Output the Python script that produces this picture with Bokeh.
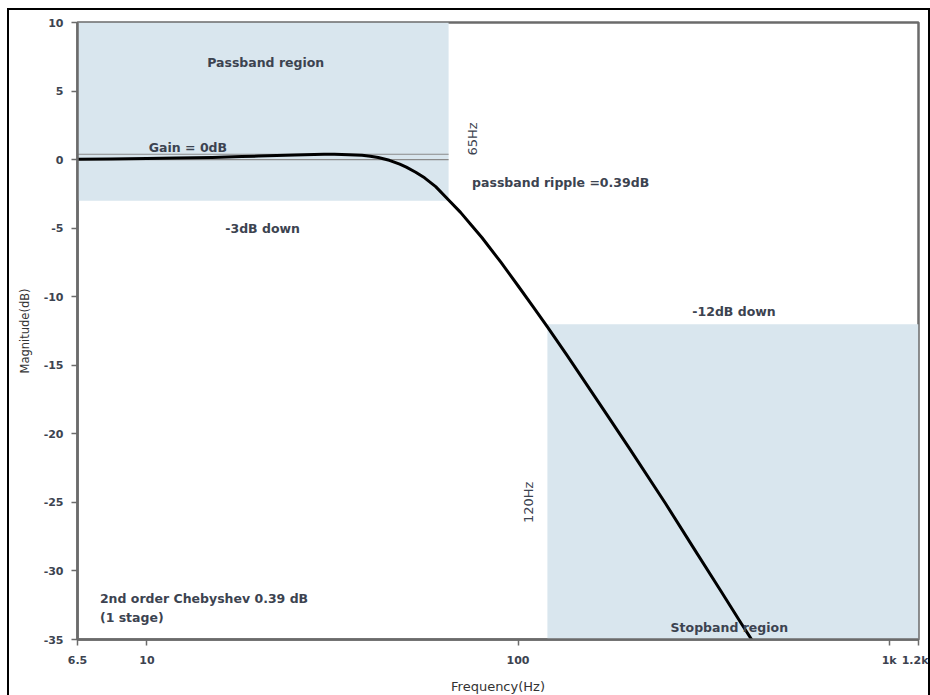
import math

from bokeh.core.properties import value
from bokeh.embed import file_html
from bokeh.models import FixedTicker
from bokeh.plotting import figure
from bokeh.resources import INLINE

# Frequency response of a 2nd-order Chebyshev low-pass (0.39 dB ripple)
freq_hz = [6.5, 8, 10, 12, 15, 18, 20, 25, 30, 32, 35, 38, 40, 42, 45, 48,
           50, 53, 56, 60, 65, 70, 75, 80, 90, 100, 110, 120, 135, 150, 175,
           200, 250, 300, 350, 400, 450]
magnitude_db = [0.03, 0.05, 0.08, 0.11, 0.16, 0.22, 0.26, 0.34, 0.39, 0.39,
                0.36, 0.31, 0.25, 0.15, -0.05, -0.33, -0.55, -0.92, -1.33,
                -1.97, -2.95, -3.85, -4.8, -5.7, -7.5, -9.2, -10.75, -12.2,
                -14.2, -16.05, -18.75, -21.1, -25.1, -28.5, -31.35, -33.85,
                -36.0]

# Shaded specification regions
region_left = [6.5, 120]
region_right = [65, 1200]
region_bottom = [-3, -35]
region_top = [10, -12]

# Ripple band reference lines
ripple_levels = [0.0, 0.39]
ripple_span = [6.5, 65]

# Axis ticks
x_ticks = [6.5, 10, 100, 1000, 1200]
x_tick_labels = ["6.5", "10", "100", "1k", "1.2k"]
y_ticks = [-35, -30, -25, -20, -15, -10, -5, 0, 5, 10]
y_tick_labels = ["-35", "-30", "-25", "-20", "-15", "-10", "-5", "0", "5", "10"]

# Annotations
note_text = ["Passband region", "Gain = 0dB", "-3dB down", "-12dB down",
             "Stopband region"]
note_x = [20.9, 12.9, 20.5, 382, 371]
note_y = [7.1, 0.9, -5.0, -11.1, -34.1]

left_text = ["passband ripple =0.39dB", "2nd order Chebyshev 0.39 dB",
             "(1 stage)"]
left_x = [75.2, 7.47, 7.47]
left_y = [-1.7, -32.0, -33.4]

edge_text = ["65Hz", "120Hz"]
edge_x = [75.3, 106.4]
edge_y = [1.5, -25.0]

TEXT_COLOR = "#3c4350"
AXIS_COLOR = "#6b6b6b"
SHADE = "#d9e6ee"

p = figure(
    x_axis_type="log",
    x_range=(6.5, 1200),
    y_range=(-35, 10),
    frame_width=841,
    frame_height=617,
    min_border_left=68,
    min_border_top=12,
    min_border_right=10,
    min_border_bottom=46,
    output_backend="svg",
    toolbar_location=None,
)
p.styles = {
    "margin-left": "7px",
    "margin-top": "8px",
    "border-top": "2px solid black",
    "border-left": "2px solid black",
    "border-right": "2px solid black",
}

p.xgrid.visible = False
p.ygrid.visible = False
p.outline_line_color = AXIS_COLOR
p.outline_line_width = 2.5

p.quad(left=region_left, right=region_right, bottom=region_bottom,
       top=region_top, fill_color=SHADE, line_color=None)

for lvl in ripple_levels:
    p.line(x=ripple_span, y=[lvl, lvl], line_color="#8a8a8a", line_width=1.2)

p.line(x=freq_hz, y=magnitude_db, line_color="black", line_width=3,
       line_join="round")

p.text(x=note_x, y=note_y, text=note_text,
       text_font=value("DejaVu Sans"), text_font_style="bold",
       text_font_size="12.5px", text_color=TEXT_COLOR,
       text_align="center", text_baseline="middle")

p.text(x=left_x, y=left_y, text=left_text,
       text_font=value("DejaVu Sans"), text_font_style="bold",
       text_font_size="12.5px", text_color=TEXT_COLOR,
       text_align="left", text_baseline="middle")

p.text(x=edge_x, y=edge_y, text=edge_text, angle=math.pi / 2,
       text_font=value("DejaVu Sans"), text_font_size="13px",
       text_color=TEXT_COLOR, text_align="center", text_baseline="middle")

for ax in (p.xaxis[0], p.yaxis[0]):
    ax.axis_line_color = AXIS_COLOR
    ax.axis_line_width = 2.5
    ax.major_tick_line_color = AXIS_COLOR
    ax.major_tick_line_width = 1.5
    ax.major_tick_out = 6
    ax.major_tick_in = 0
    ax.minor_tick_line_color = None
    ax.major_label_text_font = "DejaVu Sans"
    ax.major_label_text_font_style = "bold"
    ax.major_label_text_font_size = "11px"
    ax.major_label_text_color = TEXT_COLOR
    ax.major_label_standoff = 8
    ax.axis_label_text_font = "DejaVu Sans"
    ax.axis_label_text_font_style = "normal"
    ax.axis_label_text_color = "#333333"
    ax.axis_label_standoff = 9

p.xaxis.ticker = FixedTicker(ticks=x_ticks)
p.xaxis.major_label_overrides = dict(zip(x_ticks, x_tick_labels))
p.xaxis.axis_label = "Frequency(Hz)"
p.xaxis.axis_label_text_font_size = "13px"

p.yaxis.ticker = FixedTicker(ticks=y_ticks)
p.yaxis.major_label_overrides = dict(zip(y_ticks, y_tick_labels))
p.yaxis.axis_label = "Magnitude(dB)"
p.yaxis.axis_label_text_font_size = "11.5px"

open("out.html", "w").write(file_html(p, INLINE))
